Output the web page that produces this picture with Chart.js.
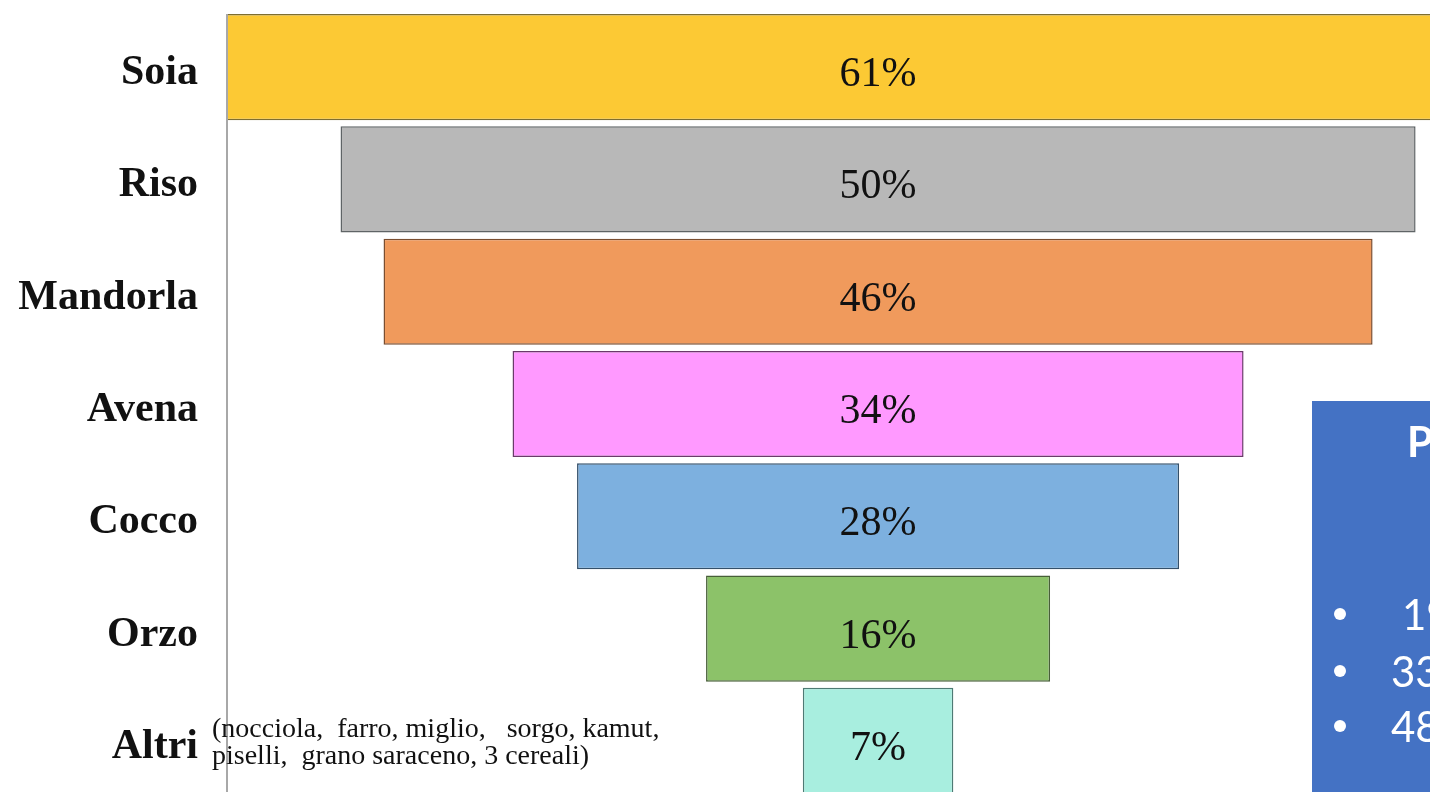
<!DOCTYPE html>
<html>
<head>
<meta charset="utf-8">
<script src="https://cdn.jsdelivr.net/npm/chart.js@4"></script>
<style>
html,body{margin:0;padding:0;background:#fff;overflow:hidden;}
#wrap{position:relative;width:1430px;height:792px;overflow:hidden;}
canvas{position:absolute;left:0;top:0;}
</style>
</head>
<body>
<div id="wrap"><canvas id="c" width="1430" height="800"></canvas></div>
<script>
const categories = ["Soia", "Riso", "Mandorla", "Avena", "Cocco", "Orzo", "Altri"];
const values = [61, 50, 46, 34, 28, 16, 7];
const otherNote = ["(nocciola,  farro, miglio,   sorgo, kamut,", "piselli,  grano saraceno, 3 cereali)"];
const boxLines = ["P", "19", "33", "48"];

const fillColors = ["#FCC934", "#B8B8B8", "#F09A5C", "#FF99FF", "#7DB0DF", "#8CC269", "#A8EEDF"];
const edgeColors = ["#7E6E30", "#5F6466", "#7A4E30", "#6A3A6A", "#34506A", "#475F38", "#4E7A74"];

const funnel = values.map(v => [-v / 2, v / 2]);

const drawPlugin = {
  id: 'funnelText',
  afterDraw(chart) {
    const ctx = chart.ctx;
    const ca = chart.chartArea;
    const yScale = chart.scales.y;
    const meta = chart.getDatasetMeta(0);
    ctx.save();
    // axis line
    ctx.strokeStyle = '#A8A8A8';
    ctx.lineWidth = 2;
    ctx.beginPath();
    ctx.moveTo(ca.left, meta.data[0].y - meta.data[0].height / 2);
    ctx.lineTo(ca.left, 800);
    ctx.stroke();
    // value labels
    ctx.fillStyle = '#111111';
    ctx.font = '42px "Liberation Serif", "Times New Roman", serif';
    ctx.textAlign = 'center';
    ctx.textBaseline = 'alphabetic';
    meta.data.forEach((bar, i) => {
      const cx = (bar.x + bar.base) / 2;
      ctx.fillText(values[i] + '%', cx, bar.y + 19);
    });
    // category labels
    categories.forEach((c, i) => {
      const y = yScale.getPixelForValue(i);
      ctx.font = 'bold 42px "Liberation Serif", "Times New Roman", serif';
      ctx.textAlign = 'right';
      ctx.fillText(c, 198, y + 17);
      if (i === categories.length - 1) {
        ctx.font = '28px "Liberation Serif", "Times New Roman", serif';
        ctx.textAlign = 'left';
        ctx.fillText(otherNote[0], 212, y - 4);
        ctx.fillText(otherNote[1], 212, y + 23);
      }
    });
    // blue text box
    ctx.fillStyle = '#4472C4';
    ctx.fillRect(1312, 401, 200, 400);
    ctx.fillStyle = '#ffffff';
    ctx.textAlign = 'left';
    ctx.font = 'bold 42px Lato, "Open Sans", sans-serif';
    ctx.fillText(boxLines[0], 1407, 457);
    ctx.font = '42px Lato, "Open Sans", sans-serif';
    const bl = [630, 687, 742];
    const bx = [1402, 1391, 1391];
    for (let k = 1; k < boxLines.length; k++) {
      ctx.beginPath();
      ctx.arc(1340, bl[k - 1] - 16, 6, 0, Math.PI * 2);
      ctx.fill();
      ctx.fillText(boxLines[k], bx[k - 1], bl[k - 1]);
    }
    ctx.restore();
  }
};

new Chart(document.getElementById('c'), {
  type: 'bar',
  data: {
    labels: categories,
    datasets: [{
      data: funnel,
      backgroundColor: fillColors,
      borderColor: edgeColors,
      borderWidth: 1.5,
      borderSkipped: false,
      barPercentage: 0.945,
      categoryPercentage: 1
    }]
  },
  options: {
    indexAxis: 'y',
    responsive: false,
    animation: false,
    devicePixelRatio: 1,
    layout: { padding: { left: 227, top: 11, bottom: 3, right: 0 } },
    plugins: { legend: { display: false }, tooltip: { enabled: false } },
    scales: {
      x: { display: false, min: -30.28, max: 25.67 },
      y: { display: false }
    }
  },
  plugins: [drawPlugin]
});
</script>
</body>
</html>
